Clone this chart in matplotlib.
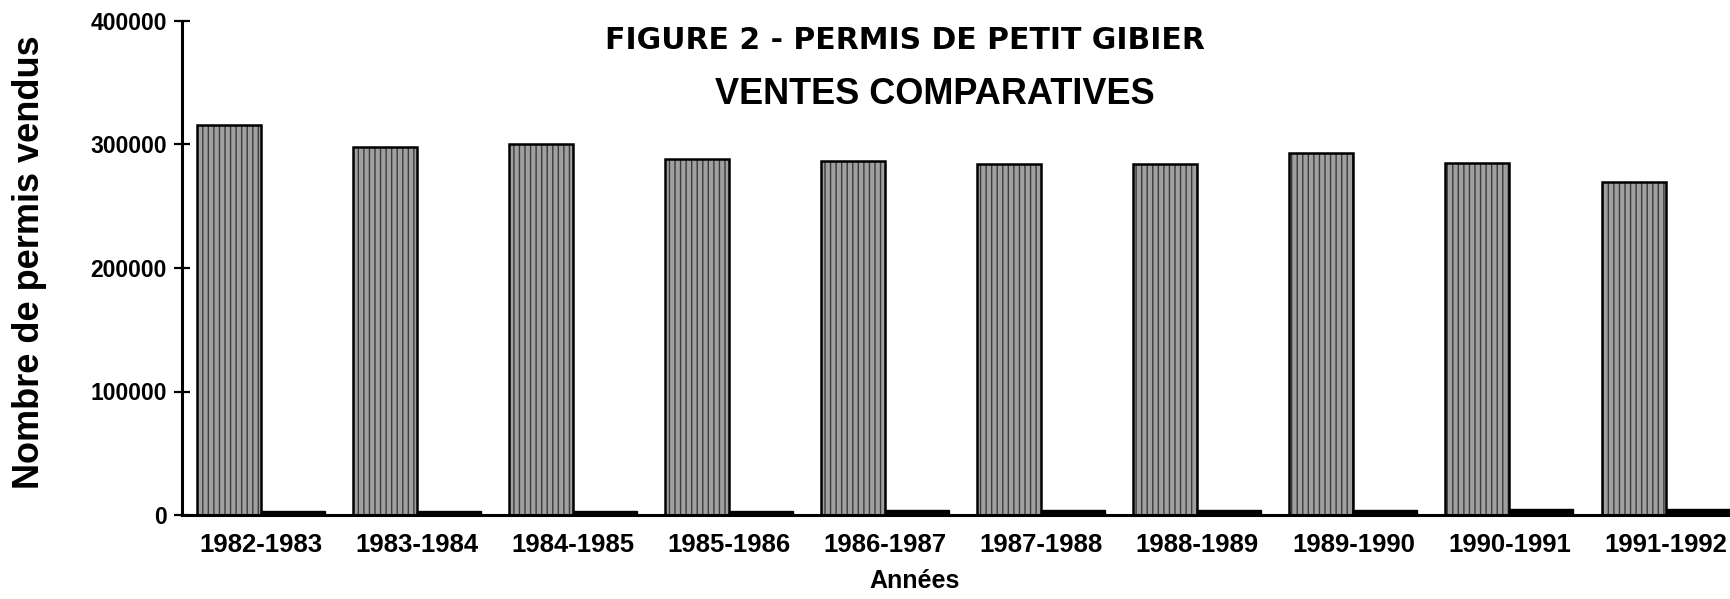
import matplotlib
matplotlib.use("Agg")
import matplotlib.pyplot as plt
import matplotlib.font_manager as fm
import numpy as np

# ---- data ----
saisons = ['1982-1983', '1983-1984', '1984-1985', '1985-1986', '1986-1987',
           '1987-1988', '1988-1989', '1989-1990', '1990-1991', '1991-1992']
permis_residents = [316000, 298000, 300000, 288000, 287000,
                    284000, 284000, 293000, 285000, 270000]
permis_non_residents = [3000, 3000, 3000, 3200, 3800,
                        3800, 3800, 4000, 4800, 4500]
yticks = [0, 100000, 200000, 300000, 400000]

titre1 = "FIGURE 2 - PERMIS DE PETIT GIBIER"
titre2 = "VENTES COMPARATIVES"
xlabel = "Années"
ylabel = "Nombre de permis vendus"

# ---- fonts ----
names = {f.name for f in fm.fontManager.ttflist}
if 'Liberation Sans Narrow' in names:
    narrow = ['Liberation Sans Narrow', 'DejaVu Sans']
    xt_size, yt_size = 21.5, 17
else:
    narrow = ['Liberation Sans', 'DejaVu Sans']
    xt_size, yt_size = 18.5, 16.5
sans = ['Liberation Sans', 'DejaVu Sans']

W, H = 1730, 599
fig = plt.figure(figsize=(W / 100, H / 100), dpi=100)
ax = fig.add_axes([182 / W, (H - 515) / H, (W - 182) / W, (515 - 21) / H])

x = np.arange(len(saisons))
w = 0.41

# gray textured bars
ax.bar(x - w / 2, permis_residents, width=w, color='#a0a0a0', hatch='|||',
       edgecolor='#3a3a3a', linewidth=0, zorder=2)
ax.bar(x - w / 2, permis_residents, width=w, fill=False,
       edgecolor='black', linewidth=1.8, zorder=3)
# small black bars
ax.bar(x + w / 2, permis_non_residents, width=w, color='black',
       edgecolor='black', linewidth=1.0, zorder=3)

ax.set_xlim(-0.504, len(saisons) - 1 + 0.413)
ax.set_ylim(0, 400000)
ax.set_yticks(yticks)
ax.set_yticklabels([str(v) for v in yticks], family=narrow,
                   fontweight='bold', fontsize=yt_size)
ax.set_xticks(x)
ax.set_xticklabels(saisons, family=narrow, fontweight='bold', fontsize=xt_size)
ax.tick_params(axis='x', length=0, pad=13)
ax.tick_params(axis='y', direction='inout', length=12, width=1.6, pad=5)

for s in ['top', 'right']:
    ax.spines[s].set_visible(False)
for s in ['left', 'bottom']:
    ax.spines[s].set_linewidth(2.2)
    ax.spines[s].set_zorder(4)

# titles
fig.text(905 / W, 1 - 49 / H, titre1, family=['DejaVu Sans'], fontweight='bold',
         fontsize=21.5, ha='center', va='baseline')
fig.text(935 / W, 1 - 104 / H, titre2, family=sans, fontweight='bold',
         fontsize=26, ha='center', va='baseline')

# axis labels
fig.text(915 / W, 1 - 588 / H, xlabel, family=sans, fontweight='bold',
         fontsize=18, ha='center', va='baseline')
fig.text(30 / W, 1 - 262 / H, ylabel, family=sans, fontweight='bold',
         fontsize=26, rotation=90, ha='center', va='center')

fig.savefig('out.png', dpi=100, facecolor='white')
